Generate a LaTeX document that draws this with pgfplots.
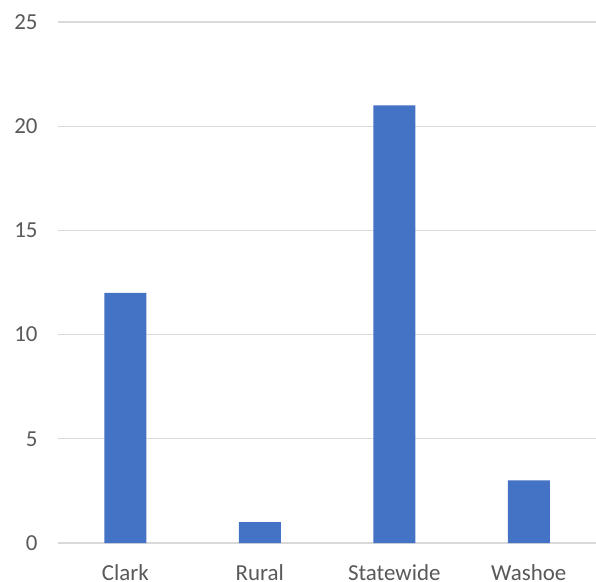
\documentclass[border=0pt]{standalone}
\usepackage{pgfplots}
\pgfplotsset{compat=1.18}
\usepackage{fontspec}
\setmainfont{Carlito}
\definecolor{barblue}{HTML}{4472C4}
\definecolor{gridgray}{HTML}{D9D9D9}
\definecolor{txtgray}{HTML}{595959}
\begin{document}
\begin{tikzpicture}
% fixed frame: axis box is 538 x 521, with 58 left, 39 below, 22 above
\useasboundingbox (-58bp,-39bp) rectangle (538bp,543bp);
\begin{axis}[
    at={(0,0)}, anchor=south west,
    scale only axis,
    width=538bp, height=521bp,
    ymin=0, ymax=25,
    ytick={0,5,10,15,20,25},
    xmin=-0.5, xmax=3.5,
    xtick=data,
    xticklabels={Clark,Rural,Statewide,Washoe},
    axis line style={draw=none},
    ymajorgrids,
    grid style={gridgray, line width=1.2bp},
    major tick length=0pt,
    tick label style={font=\fontsize{23}{26}\selectfont, text=txtgray},
    /pgf/number format/assume math mode=true,
    yticklabel style={anchor=east, xshift=-17bp},
    xticklabel style={anchor=base, yshift=-37bp},
    ybar,
    bar width=42bp,
]
\addplot[fill=barblue, draw=none] coordinates {(0,12) (1,1) (2,21) (3,3)};
\end{axis}
\end{tikzpicture}
\end{document}
